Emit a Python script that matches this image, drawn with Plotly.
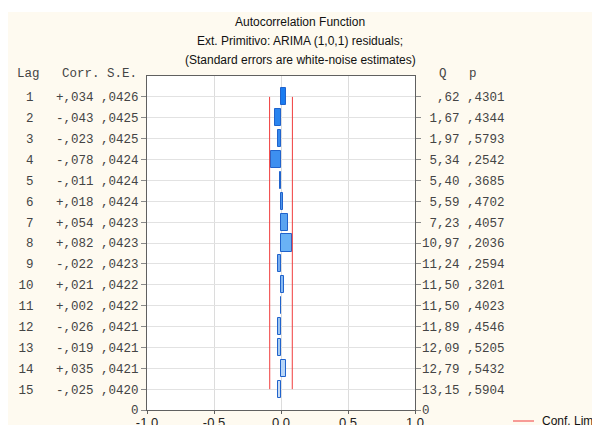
import plotly.graph_objects as go

# ---- data ----
lags = list(range(1, 16))
corr = [0.034, -0.043, -0.023, -0.078, -0.011, 0.018, 0.054, 0.082,
        -0.022, 0.021, 0.002, -0.026, -0.019, 0.035, -0.025]
se = [0.0426, 0.0425, 0.0425, 0.0424, 0.0424, 0.0424, 0.0423, 0.0423,
      0.0423, 0.0422, 0.0422, 0.0421, 0.0421, 0.0421, 0.0420]
q_stat = [0.62, 1.67, 1.97, 5.34, 5.40, 5.59, 7.23, 10.97,
          11.24, 11.50, 11.50, 11.89, 12.09, 12.79, 13.15]
p_val = [0.4301, 0.4344, 0.5793, 0.2542, 0.3685, 0.4702, 0.4057, 0.2036,
         0.2594, 0.3201, 0.4023, 0.4546, 0.5205, 0.5432, 0.5904]
x_ticks = [-1.0, -0.5, 0.0, 0.5, 1.0]
x_tick_labels = ["-1.0", "-0.5", "0.0", "0.5", "1.0"]

# ---- styles ----
bar_colors = ["#1a7cf0", "#2a84ef", "#3589ee", "#3d8ff0", "#4690ea", "#4f96ea",
              "#5aa4f0", "#6ab2f5", "#78adef", "#88b9f0", "#92bff0", "#9cc4f0",
              "#a8ccf1", "#b8d6f6", "#c8dcf4"]
CREAM = "#fefaf0"
RED = "#f03c3c"
MONO = "Liberation Mono, Courier New, monospace"
SANS = "Liberation Sans, Arial, sans-serif"
NB = "\u00a0"

# page has an 8px body margin; coordinates below are given in page pixels
OFF = 8
W, H = 600, 425
L, T = 139, 68
PW, PH = 268, 334
R, B = W - L - PW, H - T - PH


def px2x(px):  # page pixel -> paper x
    return (px - OFF - L) / PW


def py2y(py):  # page pixel -> paper y
    return (T + PH - (py - OFF)) / PH


def fmt_dec(v, d):
    s = f"{abs(v):.{d}f}"
    if s.startswith("0."):
        s = s[1:]
    return s.replace(".", ",")


def fmt_corr(v):
    return ("+" if v >= 0 else "-") + fmt_dec(v, 3)


left_text = [f"{l:>2}   {fmt_corr(c)} {fmt_dec(s, 4)}".replace(" ", NB)
             for l, c, s in zip(lags, corr, se)]
right_text = [f"{fmt_dec(q, 2):>5} {fmt_dec(p, 4)}".replace(" ", NB)
              for q, p in zip(q_stat, p_val)]

fig = go.Figure()

fig.add_trace(go.Bar(
    x=corr, y=lags, orientation="h", width=0.82,
    marker=dict(color=bar_colors, line=dict(color="#2063cc", width=1)),
    showlegend=False, hoverinfo="skip",
))

# confidence limits (+/- 2 S.E.)
fig.add_trace(go.Scatter(
    x=[2 * s for s in se], y=lags, mode="lines",
    line=dict(color=RED, width=1), showlegend=False, hoverinfo="skip"))
fig.add_trace(go.Scatter(
    x=[-2 * s for s in se], y=lags, mode="lines",
    line=dict(color=RED, width=1), showlegend=False, hoverinfo="skip"))

# invisible trace for right axis
fig.add_trace(go.Scatter(x=[0], y=[1], yaxis="y2", mode="markers",
                         marker=dict(opacity=0), showlegend=False, hoverinfo="skip"))


def ann(text, px, py, xanchor="center", family=SANS, color="#111", size=12):
    return dict(text=text, x=px2x(px), y=py2y(py), xref="paper", yref="paper",
                showarrow=False, xanchor=xanchor, yanchor="middle",
                font=dict(family=family, size=size, color=color))


fig.update_layout(
    width=W, height=H,
    margin=dict(l=L, r=R, t=T, b=B, pad=0),
    paper_bgcolor=CREAM, plot_bgcolor="white",
    bargap=0,
    xaxis=dict(range=[-1, 1], tickvals=x_ticks, ticktext=x_tick_labels,
               showgrid=True, gridcolor="#dcdcdc", gridwidth=1,
               showline=True, mirror=True, linecolor="#606060", linewidth=1,
               ticks="outside", ticklen=3, tickcolor="#606060",
               ticklabelstandoff=-3,
               tickfont=dict(family=SANS, size=13, color="#222"),
               zeroline=False, fixedrange=True, automargin=False),
    yaxis=dict(range=[16, 0], tickvals=lags + [16], ticktext=left_text + ["0"],
               showgrid=True, gridcolor="#e2e2e2", gridwidth=1,
               showline=True, linecolor="#606060", linewidth=1, mirror="ticks",
               ticks="outside", ticklen=5, tickcolor="#8a8a8a",
               tickfont=dict(family=MONO, size=12.5, color="#444"),
               zeroline=False, fixedrange=True, automargin=False),
    yaxis2=dict(range=[16, 0], overlaying="y", side="right",
                tickvals=lags + [16], ticktext=right_text + ["0"],
                showgrid=False, showline=False, ticks="", ticklabelstandoff=6,
                tickfont=dict(family=MONO, size=12.5, color="#444"),
                zeroline=False, fixedrange=True, automargin=False),
    shapes=[
        # white band at top of the picture
        dict(type="rect", xref="paper", yref="paper",
             x0=px2x(0), x1=px2x(620), y0=py2y(12), y1=py2y(0),
             fillcolor="white", line=dict(width=0), layer="below"),
        # legend sample line
        dict(type="line", xref="paper", yref="paper",
             x0=px2x(513), x1=px2x(534), y0=py2y(421), y1=py2y(421),
             line=dict(color=RED, width=1)),
    ],
    annotations=[
        ann("Autocorrelation Function", 300, 22),
        ann("Ext. Primitivo: ARIMA (1,0,1) residuals;", 300, 41),
        ann("(Standard errors are white-noise estimates)", 300, 60),
        ann("Lag" + NB * 3 + "Corr." + NB + "S.E.", 139, 74, "right", MONO, "#444", 12.5),
        ann(NB * 2 + "Q" + NB * 3 + "p", 422, 74, "left", MONO, "#444", 12.5),
        ann("Conf. Limit", 540, 421, "left"),
    ],
)

fig.write_html("out.html")
